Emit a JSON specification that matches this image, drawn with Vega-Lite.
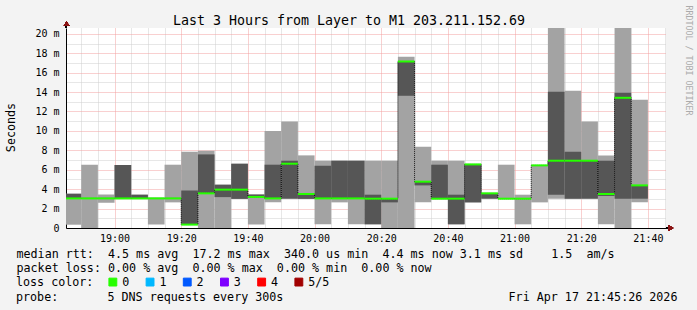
{
  "$schema": "https://vega.github.io/schema/vega-lite/v6.json",
  "width": 600,
  "height": 200,
  "autosize": {"type": "none"},
  "padding": {"left": 66, "top": 28, "right": 31, "bottom": 82},
  "background": "#f3f3f3",
  "config": {
    "view": {"fill": "white", "stroke": null},
    "font": "DejaVu Sans Mono"
  },
  "title": {
    "text": "probe:\u00a0\u00a0\u00a0\u00a0\u00a0\u00a0\u00a05 DNS requests every 300s\u00a0\u00a0\u00a0\u00a0\u00a0\u00a0\u00a0\u00a0\u00a0\u00a0\u00a0\u00a0\u00a0\u00a0\u00a0\u00a0\u00a0\u00a0\u00a0\u00a0\u00a0\u00a0\u00a0\u00a0\u00a0\u00a0\u00a0\u00a0\u00a0\u00a0\u00a0\u00a0Fri Apr 17 21:45:26 2026",
    "orient": "bottom", "anchor": "start", "frame": "group", "align": "left",
    "font": "DejaVu Sans Mono", "fontSize": 11.7, "fontWeight": "normal", "color": "#000000",
    "baseline": "top", "offset": 3, "dx": -50
  },
  "data": {"values": [
    {"t": 45, "end": 50, "p1": 0.34, "p2": 3.05, "p3": 3.05, "p4": 3.53, "p5": 3.53, "loss": "0"},
    {"t": 50, "end": 55, "p1": 0.0, "p2": 3.05, "p3": 3.05, "p4": 3.05, "p5": 6.51, "loss": "0"},
    {"t": 55, "end": 60, "p1": 2.6, "p2": 3.05, "p3": 3.05, "p4": 3.05, "p5": 3.45, "loss": "0"},
    {"t": 60, "end": 65, "p1": 3.05, "p2": 3.05, "p3": 3.05, "p4": 6.5, "p5": 6.5, "loss": "0"},
    {"t": 65, "end": 70, "p1": 3.05, "p2": 3.05, "p3": 3.05, "p4": 3.43, "p5": 3.43, "loss": "0"},
    {"t": 70, "end": 75, "p1": 0.36, "p2": 3.05, "p3": 3.05, "p4": 3.08, "p5": 3.13, "loss": "0"},
    {"t": 75, "end": 80, "p1": 2.64, "p2": 3.05, "p3": 3.05, "p4": 3.05, "p5": 6.52, "loss": "0"},
    {"t": 80, "end": 85, "p1": 0.35, "p2": 0.35, "p3": 0.35, "p4": 3.85, "p5": 7.86, "loss": "0"},
    {"t": 85, "end": 90, "p1": 0.0, "p2": 3.57, "p3": 3.57, "p4": 7.58, "p5": 7.96, "loss": "0"},
    {"t": 90, "end": 95, "p1": 0.0, "p2": 3.18, "p3": 3.95, "p4": 4.46, "p5": 4.46, "loss": "0"},
    {"t": 95, "end": 100, "p1": 3.0, "p2": 3.0, "p3": 3.95, "p4": 6.62, "p5": 6.62, "loss": "0"},
    {"t": 100, "end": 105, "p1": 0.36, "p2": 3.2, "p3": 3.2, "p4": 3.45, "p5": 3.45, "loss": "0"},
    {"t": 105, "end": 110, "p1": 2.64, "p2": 3.05, "p3": 3.05, "p4": 6.52, "p5": 10.0, "loss": "0"},
    {"t": 110, "end": 115, "p1": 3.02, "p2": 3.02, "p3": 6.62, "p4": 6.93, "p5": 10.98, "loss": "0"},
    {"t": 115, "end": 120, "p1": 3.0, "p2": 3.0, "p3": 3.5, "p4": 3.5, "p5": 7.48, "loss": "0"},
    {"t": 120, "end": 125, "p1": 0.38, "p2": 3.05, "p3": 3.05, "p4": 6.41, "p5": 6.93, "loss": "0"},
    {"t": 125, "end": 130, "p1": 2.64, "p2": 3.05, "p3": 3.05, "p4": 6.93, "p5": 6.93, "loss": "0"},
    {"t": 130, "end": 135, "p1": 0.38, "p2": 3.05, "p3": 3.05, "p4": 6.93, "p5": 6.93, "loss": "0"},
    {"t": 135, "end": 140, "p1": 0.38, "p2": 0.38, "p3": 3.02, "p4": 3.43, "p5": 6.93, "loss": "0"},
    {"t": 140, "end": 145, "p1": 0.0, "p2": 2.64, "p3": 3.02, "p4": 3.05, "p5": 6.93, "loss": "0"},
    {"t": 145, "end": 150, "p1": 0.0, "p2": 13.62, "p3": 17.15, "p4": 17.15, "p5": 17.63, "loss": "0"},
    {"t": 150, "end": 155, "p1": 2.64, "p2": 4.39, "p3": 4.77, "p4": 4.77, "p5": 8.37, "loss": "0"},
    {"t": 155, "end": 160, "p1": 3.02, "p2": 3.02, "p3": 3.02, "p4": 6.52, "p5": 6.93, "loss": "0"},
    {"t": 160, "end": 165, "p1": 0.38, "p2": 0.38, "p3": 3.02, "p4": 3.43, "p5": 6.93, "loss": "0"},
    {"t": 165, "end": 170, "p1": 2.64, "p2": 2.64, "p3": 6.55, "p4": 6.55, "p5": 6.55, "loss": "0"},
    {"t": 170, "end": 175, "p1": 3.02, "p2": 3.02, "p3": 3.57, "p4": 3.57, "p5": 3.57, "loss": "0"},
    {"t": 175, "end": 180, "p1": 3.02, "p2": 3.02, "p3": 3.02, "p4": 3.02, "p5": 6.52, "loss": "0"},
    {"t": 180, "end": 185, "p1": 0.38, "p2": 3.02, "p3": 3.02, "p4": 3.02, "p5": 3.43, "loss": "0"},
    {"t": 185, "end": 190, "p1": 2.64, "p2": 6.45, "p3": 6.45, "p4": 6.45, "p5": 6.45, "loss": "0"},
    {"t": 190, "end": 195, "p1": 3.02, "p2": 3.43, "p3": 6.93, "p4": 14.03, "p5": 21.0, "loss": "0"},
    {"t": 195, "end": 200, "p1": 3.02, "p2": 3.02, "p3": 6.93, "p4": 7.86, "p5": 14.13, "loss": "0"},
    {"t": 200, "end": 205, "p1": 3.02, "p2": 3.02, "p3": 6.93, "p4": 6.93, "p5": 10.98, "loss": "0"},
    {"t": 205, "end": 210, "p1": 0.38, "p2": 3.3, "p3": 3.5, "p4": 6.93, "p5": 7.48, "loss": "0"},
    {"t": 210, "end": 215, "p1": 0.0, "p2": 3.02, "p3": 13.41, "p4": 13.93, "p5": 21.0, "loss": "0"},
    {"t": 215, "end": 220, "p1": 2.64, "p2": 3.02, "p3": 4.39, "p4": 4.39, "p5": 13.21, "loss": "0"}
  ]},
  "layer": [
    {
      "mark": {"type": "rect", "color": "#a3a3a3", "clip": true},
      "encoding": {
        "x": {
          "field": "t", "type": "quantitative",
          "scale": {"domain": [45.4333, 225.4333], "nice": false, "zero": false},
          "axis": {
            "orient": "bottom",
            "values": [50, 55, 60, 65, 70, 75, 80, 85, 90, 95, 100, 105, 110, 115, 120, 125, 130, 135, 140, 145, 150, 155, 160, 165, 170, 175, 180, 185, 190, 195, 200, 205, 210, 215, 220, 225],
            "labelExpr": "datum.value % 20 == 0 ? (18 + floor(datum.value / 60)) + ':' + (datum.value % 60 == 0 ? '00' : '' + (datum.value % 60)) : ''",
            "labelFont": "DejaVu Sans Mono", "labelFontSize": 10, "labelColor": "#000000",
            "labelPadding": 5, "labelOverlap": false, "labelFlush": false, "labelBound": false,
            "ticks": false, "tickSize": 0,
            "domain": true, "domainColor": "#000000", "domainWidth": 1,
            "grid": true, "gridDash": [1, 1], "gridWidth": 1,
            "gridColor": {"condition": {"test": "datum.value % 20 == 0", "value": "#f2a0a0"}, "value": "#cfcfcf"},
            "title": [
              "median rtt:\u00a0\u00a04.5 ms avg\u00a0\u00a017.2 ms max\u00a0\u00a0340.0 us min\u00a0\u00a04.4 ms now\u00a03.1 ms sd\u00a0\u00a0\u00a0\u00a01.5\u00a0\u00a0am/s",
              "packet loss:\u00a00.00 % avg\u00a0\u00a00.00 % max\u00a0\u00a00.00 % min\u00a0\u00a00.00 % now"
            ],
            "titleFont": "DejaVu Sans Mono", "titleFontSize": 11.7, "titleFontWeight": "normal", "titleColor": "#000000",
            "titleAlign": "left", "titleAnchor": "start", "titleBaseline": "alphabetic",
            "titleLineHeight": 13.8, "titleX": -50, "titleY": 29.7
          }
        },
        "x2": {"field": "end"},
        "y": {
          "field": "p1", "type": "quantitative",
          "scale": {"domain": [0, 20.6], "nice": false, "zero": false},
          "axis": {
            "orient": "left",
            "values": [0, 1, 2, 3, 4, 5, 6, 7, 8, 9, 10, 11, 12, 13, 14, 15, 16, 17, 18, 19, 20],
            "labelExpr": "datum.value % 2 == 1 ? '' : (datum.value == 0 ? '0\u00a0\u00a0' : datum.value + ' m')",
            "labelFont": "DejaVu Sans Mono", "labelFontSize": 10, "labelColor": "#000000",
            "labelPadding": 7, "labelOverlap": false, "labelFlush": false, "labelBound": false,
            "ticks": false, "tickSize": 0,
            "domain": true, "domainColor": "#000000", "domainWidth": 1,
            "grid": true, "gridDash": [1, 1], "gridWidth": 1,
            "gridColor": {"condition": {"test": "datum.value % 2 == 0", "value": "#f2a0a0"}, "value": "#cfcfcf"},
            "title": "Seconds",
            "titleFont": "DejaVu Sans Mono", "titleFontSize": 11.7, "titleFontWeight": "normal", "titleColor": "#000000",
            "titleAngle": 270, "titleAlign": "center", "titleBaseline": "middle",
            "titleX": -55.2, "titleY": 99
          }
        },
        "y2": {"field": "p5"}
      }
    },
    {
      "mark": {"type": "rect", "color": "#565656", "clip": true},
      "encoding": {
        "x": {"field": "t", "type": "quantitative", "scale": {"domain": [45.4333, 225.4333], "nice": false, "zero": false}, "axis": null},
        "x2": {"field": "end"},
        "y": {"field": "p2", "type": "quantitative", "scale": {"domain": [0, 20.6], "nice": false, "zero": false}, "axis": null},
        "y2": {"field": "p4"}
      }
    },
    {
      "mark": {"type": "line", "interpolate": "step-after", "color": "#000000", "strokeWidth": 1, "strokeDash": [1, 1], "clip": true},
      "encoding": {
        "x": {"field": "t", "type": "quantitative", "scale": {"domain": [45.4333, 225.4333], "nice": false, "zero": false}, "axis": null},
        "y": {"field": "p3", "type": "quantitative", "scale": {"domain": [0, 20.6], "nice": false, "zero": false}, "axis": null}
      }
    },
    {
      "mark": {"type": "rule", "strokeWidth": 2, "clip": true},
      "encoding": {
        "x": {"field": "t", "type": "quantitative", "scale": {"domain": [45.4333, 225.4333], "nice": false, "zero": false}, "axis": null},
        "x2": {"field": "end"},
        "y": {"field": "p3", "type": "quantitative", "scale": {"domain": [0, 20.6], "nice": false, "zero": false}, "axis": null},
        "color": {
          "field": "loss", "type": "nominal",
          "scale": {"domain": ["0", "1", "2", "3", "4", "5/5"], "range": ["#26ff00", "#00b8ff", "#0059ff", "#7e00ff", "#ff0000", "#a10000"]},
          "legend": {
            "orient": "none", "legendX": -50, "legendY": 248, "direction": "horizontal",
            "title": "loss color:", "titleOrient": "left", "titleAnchor": "middle", "titleBaseline": "middle",
            "titleFont": "DejaVu Sans Mono", "titleFontSize": 11.7, "titleFontWeight": "normal", "titleColor": "#000000",
            "titlePadding": 13, "padding": 0,
            "symbolType": "square", "symbolSize": 62, "symbolStrokeWidth": 1, "symbolStrokeColor": "#000000",
            "labelFont": "DejaVu Sans Mono", "labelFontSize": 11.7, "labelColor": "#000000",
            "labelOffset": 3.5, "columnPadding": 13.2,
            "encode": {"symbols": {"update": {"fill": {"scale": "color", "field": "value"}, "stroke": {"value": "#000000"}, "strokeWidth": {"value": 1}, "opacity": {"value": 1}}}}
          }
        }
      }
    },
    {
      "mark": {"type": "rule", "color": "#000000", "strokeWidth": 1},
      "encoding": {
        "x": {"datum": 225.4333, "type": "quantitative", "scale": {"domain": [45.4333, 225.4333], "nice": false, "zero": false}, "axis": null},
        "x2": {"datum": 226.5},
        "y": {"datum": 0, "type": "quantitative", "scale": {"domain": [0, 20.6], "nice": false, "zero": false}, "axis": null}
      }
    },
    {
      "mark": {"type": "rule", "color": "#000000", "strokeWidth": 1},
      "encoding": {
        "x": {"datum": 45.4333, "type": "quantitative", "scale": {"domain": [45.4333, 225.4333], "nice": false, "zero": false}, "axis": null},
        "y": {"datum": 20.6, "type": "quantitative", "scale": {"domain": [0, 20.6], "nice": false, "zero": false}, "axis": null},
        "y2": {"datum": 20.95}
      }
    },
    {
      "mark": {"type": "point", "shape": "triangle-right", "filled": true, "color": "#8b1414", "size": 30, "opacity": 1},
      "encoding": {
        "x": {"datum": 226.9, "type": "quantitative", "scale": {"domain": [45.4333, 225.4333], "nice": false, "zero": false}, "axis": null},
        "y": {"datum": 0, "type": "quantitative", "scale": {"domain": [0, 20.6], "nice": false, "zero": false}, "axis": null}
      }
    },
    {
      "mark": {"type": "point", "shape": "triangle-up", "filled": true, "color": "#8b1414", "size": 30, "opacity": 1},
      "encoding": {
        "x": {
          "datum": 45.6, "type": "quantitative",
          "scale": {"domain": [45.4333, 225.4333], "nice": false, "zero": false},
          "axis": {
            "orient": "top", "labels": false, "ticks": false, "domain": false, "grid": false,
            "title": "Last 3 Hours from Layer to M1 203.211.152.69",
            "titleFont": "DejaVu Sans Mono", "titleFontSize": 13.3, "titleFontWeight": "normal", "titleColor": "#000000",
            "titleAlign": "center", "titleBaseline": "alphabetic", "titleX": 282.5, "titleY": -4
          }
        },
        "y": {
          "datum": 21.04, "type": "quantitative",
          "scale": {"domain": [0, 20.6], "nice": false, "zero": false},
          "axis": {
            "orient": "right", "labels": false, "ticks": false, "domain": false, "grid": false,
            "title": "RRDTOOL / TOBI OETIKER",
            "titleFont": "DejaVu Sans Mono", "titleFontSize": 8.3, "titleFontWeight": "normal", "titleColor": "#ababab",
            "titleAngle": 90, "titleAlign": "center", "titleBaseline": "middle", "titleX": 21.5, "titleY": 32
          }
        }
      }
    }
  ],
  "resolve": {"axis": {"x": "independent", "y": "independent"}}
}
